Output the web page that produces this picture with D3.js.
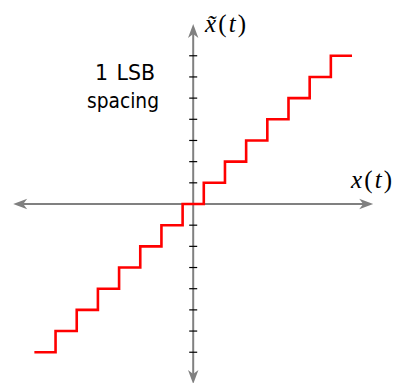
<!DOCTYPE html>
<html>
<head>
<meta charset="utf-8">
<script src="https://cdn.jsdelivr.net/npm/d3@7"></script>
<style>
  html, body { margin: 0; padding: 0; background: #fff; }
  svg { display: block; }
</style>
</head>
<body>
<svg id="chart" width="394" height="383"></svg>
<script>
// Mid-tread quantizer transfer characteristic, in units of 1 LSB.
const levels      = [-7, -6, -5, -4, -3, -2, -1, 0, 1, 2, 3, 4, 5, 6, 7];
const stepStarts  = [-7.5, -6.5, -5.5, -4.5, -3.5, -2.5, -1.5, -0.5, 0.5, 1.5, 2.5, 3.5, 4.5, 5.5, 6.5];
const stepEnd     = 7.5;
const tickValues  = [-7, -6, -5, -4, -3, -2, -1, 1, 2, 3, 4, 5, 6, 7];
const axisExtent  = [-8.5, 8.5];

const svg = d3.select("#chart");

const x = d3.scaleLinear().domain(axisExtent).range([13.2, 373.2]);
const y = d3.scaleLinear().domain(axisExtent).range([384, 24]);

const axisColor = "#808080";

// Stealth-style arrow head pointing from (x0,y0) toward tip (x1,y1)
function arrowHead(x0, y0, x1, y1) {
  const ang = Math.atan2(y1 - y0, x1 - x0);
  const len = 14, half = 5.2, notch = 10;
  const ux = Math.cos(ang), uy = Math.sin(ang);
  const px = -uy, py = ux;
  const bx = x1 - ux * len, by = y1 - uy * len;
  const nx = x1 - ux * notch, ny = y1 - uy * notch;
  return `M${x1},${y1}L${bx + px * half},${by + py * half}L${nx},${ny}L${bx - px * half},${by - py * half}Z`;
}

function doubleArrowAxis(ax0, ay0, ax1, ay1) {
  const g = svg.append("g");
  const dx = ax1 - ax0, dy = ay1 - ay0;
  const L = Math.hypot(dx, dy), ux = dx / L, uy = dy / L;
  g.append("line")
    .attr("x1", ax0 + ux * 8).attr("y1", ay0 + uy * 8)
    .attr("x2", ax1 - ux * 8).attr("y2", ay1 - uy * 8)
    .attr("stroke", axisColor).attr("stroke-width", 2);
  g.append("path").attr("d", arrowHead(ax1, ay1, ax0, ay0)).attr("fill", axisColor);
  g.append("path").attr("d", arrowHead(ax0, ay0, ax1, ay1)).attr("fill", axisColor);
}

// Horizontal axis x(t)
doubleArrowAxis(x(axisExtent[0]), y(0), x(axisExtent[1]), y(0));
// Vertical axis x~(t)
doubleArrowAxis(x(0), y(axisExtent[0]), x(0), y(axisExtent[1]));

// 1 LSB tick marks on the output axis
svg.append("g").selectAll("line")
  .data(tickValues)
  .join("line")
  .attr("x1", x(0) - 4).attr("x2", x(0) + 4)
  .attr("y1", d => y(d)).attr("y2", d => y(d))
  .attr("stroke", "#000").attr("stroke-width", 1.2);

// Staircase
const pts = levels.map((lv, i) => [stepStarts[i], lv]);
pts.push([stepEnd, levels[levels.length - 1]]);

const line = d3.line()
  .x(d => x(d[0]))
  .y(d => y(d[1]))
  .curve(d3.curveStepAfter);

svg.append("path")
  .attr("d", line(pts))
  .attr("fill", "none")
  .attr("stroke", "#ff0000")
  .attr("stroke-width", 2.6)
  .attr("stroke-linejoin", "miter")
  .attr("stroke-linecap", "butt");

// Labels
const serif = "'Liberation Serif', 'DejaVu Serif', serif";

function mathLabel(px, py, withTilde) {
  const t = svg.append("text")
    .attr("x", px).attr("y", py)
    .attr("font-family", serif)
    .attr("font-size", 25)
    .attr("fill", "#000")
    .attr("textLength", 41)
    .attr("lengthAdjust", "spacing");
  t.append("tspan").attr("font-style", "italic").text(withTilde ? "x\u0303" : "x");
  t.append("tspan").text("(");
  t.append("tspan").attr("font-style", "italic").text("t");
  t.append("tspan").text(")");
}

mathLabel(351, 188, false);
mathLabel(205, 32, true);

const sans = "'DejaVu Sans', sans-serif";
svg.append("text")
  .attr("x", 125).attr("y", 79.7)
  .attr("text-anchor", "middle")
  .attr("font-family", sans).attr("font-size", 20.5)
  .attr("word-spacing", 2)
  .text("1 LSB");
svg.append("text")
  .attr("x", 123).attr("y", 108)
  .attr("text-anchor", "middle")
  .attr("font-family", sans).attr("font-size", 20.5)
  .attr("textLength", 72).attr("lengthAdjust", "spacingAndGlyphs")
  .text("spacing");
</script>
</body>
</html>
